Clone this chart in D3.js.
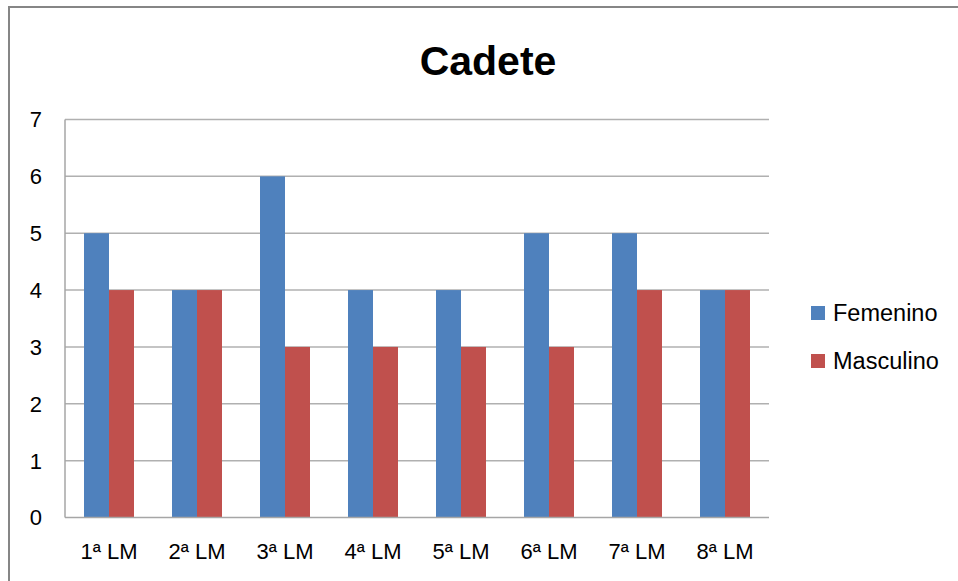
<!DOCTYPE html>
<html><head><meta charset="utf-8">
<script src="https://cdn.jsdelivr.net/npm/d3@7"></script>
<style>body{margin:0;background:#fff;} text{font-family:"Liberation Sans",Arial,sans-serif;fill:#000;}</style>
</head><body>
<svg id="chart" width="958" height="581"></svg>
<script>
const title = "Cadete";
const categories = ["1ª LM","2ª LM","3ª LM","4ª LM","5ª LM","6ª LM","7ª LM","8ª LM"];
const seriesNames = ["Femenino","Masculino"];
const femenino = [5,4,6,4,4,5,5,4];
const masculino = [4,4,3,3,3,3,4,4];
const yTicks = [0,1,2,3,4,5,6,7];
const colors = ["#4F81BD","#C0504D"];

const svg = d3.select("#chart");
const W = 958, H = 581;
const m = {left:65, top:119.5, right:769, bottom:517.5};

// outer border
svg.append("rect").attr("x",9).attr("y",7).attr("width",W+20).attr("height",H+20)
  .attr("fill","none").attr("stroke","#868686").attr("stroke-width",2);

svg.append("text").attr("x",488).attr("y",75).attr("text-anchor","middle")
  .style("font-size","41px").style("font-weight","bold").text(title);

const x = d3.scaleBand().domain(categories).range([m.left,m.right]).paddingInner(0).paddingOuter(0);
const y = d3.scaleLinear().domain([0,7]).range([m.bottom,m.top]);

// gridlines
svg.append("g").selectAll("line").data(yTicks.filter(d=>d>0)).join("line")
  .attr("x1",m.left).attr("x2",m.right).attr("y1",d=>y(d)).attr("y2",d=>y(d))
  .attr("stroke","#b0b0b0").attr("stroke-width",1.5);

const data = categories.map((c,i)=>({c, vals:[femenino[i],masculino[i]]}));
const groupW = 50;
const g = svg.append("g").selectAll("g").data(data).join("g");
g.selectAll("rect").data(d=>d.vals.map((v,j)=>({c:d.c,v,j}))).join("rect")
  .attr("x",d=>x(d.c)+x.bandwidth()/2-groupW/2+d.j*groupW/2)
  .attr("width",groupW/2)
  .attr("y",d=>y(d.v)).attr("height",d=>y(0)-y(d.v))
  .attr("fill",d=>colors[d.j]);

// axes lines
svg.append("line").attr("x1",m.left).attr("x2",m.left).attr("y1",m.top).attr("y2",m.bottom)
  .attr("stroke","#a6a6a6").attr("stroke-width",1.5);
svg.append("line").attr("x1",m.left).attr("x2",m.right).attr("y1",m.bottom).attr("y2",m.bottom)
  .attr("stroke","#a6a6a6").attr("stroke-width",1.5);

// y labels
svg.append("g").selectAll("text").data(yTicks).join("text")
  .attr("x",42).attr("y",d=>y(d)).attr("dy","0.36em").attr("text-anchor","end")
  .style("font-size","22px").text(d=>d);

// x labels
svg.append("g").selectAll("text").data(categories).join("text")
  .attr("x",d=>x(d)+x.bandwidth()/2).attr("y",559).attr("text-anchor","middle")
  .style("font-size","22px").text(d=>d);

// legend
const lg = svg.append("g").selectAll("g").data(seriesNames).join("g")
  .attr("transform",(d,i)=>`translate(811,${313+i*48})`);
lg.append("rect").attr("x",0).attr("y",-7).attr("width",14).attr("height",14).attr("fill",(d,i)=>colors[i]);
lg.append("text").attr("x",22).attr("y",0).attr("dy","0.36em").style("font-size","23.5px").text(d=>d);
</script>
</body></html>
